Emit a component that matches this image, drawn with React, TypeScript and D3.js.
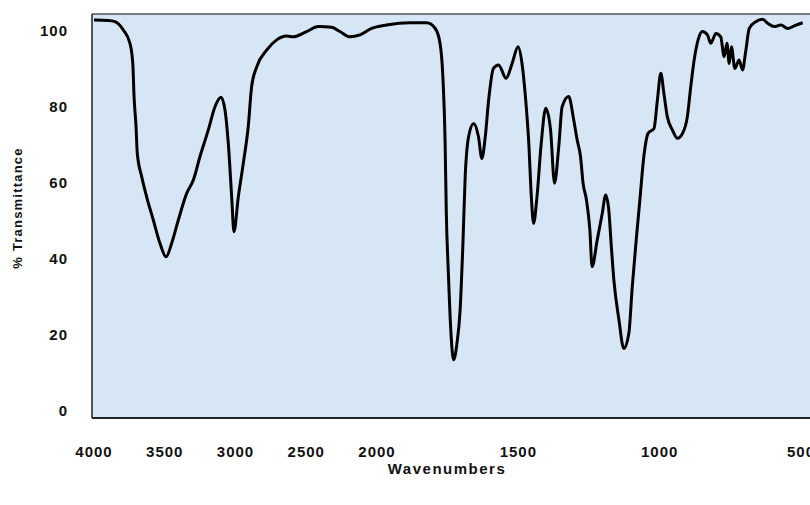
import React from 'react';
import * as d3 from 'd3';

// IR spectrum
const wavenumbers = [
  4000, 3900, 3852, 3793, 3746, 3726, 3717, 3703, 3694, 3663, 3628, 3581, 3534, 3491,
  3451, 3404, 3345, 3298, 3251, 3192, 3145, 3102, 3074, 3051, 3027, 3011, 2980, 2945,
  2910, 2886, 2850, 2780, 2709, 2638, 2592, 2497, 2415, 2320, 2262, 2191, 2120, 2038,
  1966, 1883, 1824, 1794, 1777, 1767, 1759, 1755, 1747, 1739, 1729, 1717, 1706, 1696,
  1688, 1676, 1658, 1641, 1629, 1617, 1605, 1588, 1570, 1543, 1522, 1501, 1487, 1475,
  1463, 1454, 1446, 1434, 1419, 1403, 1386, 1372, 1357, 1345, 1322, 1304, 1292, 1280,
  1271, 1259, 1247, 1239, 1221, 1203, 1191, 1180, 1171, 1162, 1144, 1127, 1109, 1097,
  1083, 1070, 1056, 1041, 1020, 1008, 996, 985, 973, 955, 937, 919, 902, 890,
  878, 864, 849, 831, 819, 801, 784, 772, 762, 754, 746, 734, 719, 707,
  695, 683, 660, 636, 618, 595, 571, 547, 524, 494,
];
const transmittance = [
  102.6, 102.5, 102.2, 100.0, 96.5, 91.2, 82.5, 74.6, 67.5, 61.4, 56.1, 50.0, 43.9, 40.3,
  43.9, 50.0, 57.0, 60.5, 66.7, 73.7, 79.8, 82.3, 78.9, 70.2, 56.1, 46.9, 56.1, 64.9,
  74.6, 85.1, 90.3, 94.7, 97.4, 98.4, 98.2, 99.6, 100.9, 100.7, 99.6, 98.2, 98.7, 100.4,
  101.3, 101.9, 101.9, 100.4, 96.5, 87.7, 70.2, 52.6, 35.1, 21.1, 13.2, 17.6, 26.3, 43.9,
  61.4, 71.9, 75.4, 71.9, 66.2, 71.9, 81.6, 89.9, 90.8, 87.3, 91.2, 95.6, 91.2, 82.5,
  70.2, 56.1, 49.1, 56.1, 70.2, 79.4, 73.7, 59.7, 69.3, 79.8, 82.5, 76.3, 71.1, 66.7,
  59.7, 55.3, 47.4, 37.7, 44.7, 51.8, 56.6, 52.6, 43.0, 34.2, 23.7, 16.2, 20.2, 32.4,
  44.7, 55.3, 66.7, 72.8, 74.1, 81.6, 88.6, 83.3, 77.2, 73.7, 71.5, 72.8, 77.2, 85.1,
  92.1, 97.4, 99.6, 98.7, 96.5, 99.1, 98.2, 93.0, 96.5, 91.2, 95.6, 89.9, 92.1, 89.5,
  94.7, 100.4, 102.2, 102.8, 101.8, 100.9, 101.3, 100.4, 101.1, 101.9,
];

const xTicks = [4000, 3500, 3000, 2500, 2000, 1500, 1000, 500];
const yTicks = [0, 20, 40, 60, 80, 100];

const W = 810;
const H = 505;
const plot = { left: 92, top: 14, right: 812, bottom: 418 };

export default function App() {
  // the spectrum is compressed above 2000 cm-1, so the x scale has a knee there
  const x = d3.scaleLinear().domain([4000, 2000, 500]).range([94, 377, 801]);
  const y = d3.scaleLinear().domain([0, 100]).range([410, 30]);

  const points = wavenumbers.map((w, i) => [w, transmittance[i]] as [number, number]);
  const line = d3.line<[number, number]>()
    .x(d => x(d[0]))
    .y(d => y(d[1]))
    .curve(d3.curveMonotoneX);

  const font = '"Liberation Sans", Arial, sans-serif';

  return (
    <svg width={W} height={H} style={{ position: 'absolute', left: 0, top: 0, background: '#fff' }}>
      <defs>
        <clipPath id="plotClip">
          <rect x={plot.left} y={plot.top} width={plot.right - plot.left} height={plot.bottom - plot.top} />
        </clipPath>
      </defs>
      <rect x={plot.left} y={plot.top} width={plot.right - plot.left} height={plot.bottom - plot.top} fill="#d7e6f4" />
      <line x1={plot.left} x2={plot.right} y1={plot.top} y2={plot.top} stroke="#555" strokeWidth={1.5} />
      <line x1={plot.left} x2={plot.left} y1={plot.top} y2={plot.bottom} stroke="#222" strokeWidth={1.5} />
      <line x1={plot.left} x2={plot.right} y1={plot.bottom} y2={plot.bottom} stroke="#222" strokeWidth={2} />

      <path
        d={line(points) || ''}
        fill="none"
        stroke="#000"
        strokeWidth={3}
        strokeLinejoin="round"
        clipPath="url(#plotClip)"
      />

      {yTicks.map(t => (
        <text key={t} x={68} y={y(t)} textAnchor="end" dominantBaseline="central"
          fontFamily={font} fontWeight="bold" fontSize={15} fill="#111" letterSpacing={1}>
          {t}
        </text>
      ))}
      {xTicks.map(t => (
        <text key={t} x={x(t)} y={457} textAnchor="middle"
          fontFamily={font} fontWeight="bold" fontSize={15} fill="#111" letterSpacing={1}>
          {t}
        </text>
      ))}

      <text x={447} y={474} textAnchor="middle" fontFamily={font} fontWeight="bold"
        fontSize={15} fill="#111" letterSpacing={1.5}>
        Wavenumbers
      </text>
      <text transform="translate(22,208) rotate(-90)" textAnchor="middle" fontFamily={font}
        fontWeight="bold" fontSize={13} fill="#111" letterSpacing={1.2}>
        % Transmittance
      </text>
    </svg>
  );
}
